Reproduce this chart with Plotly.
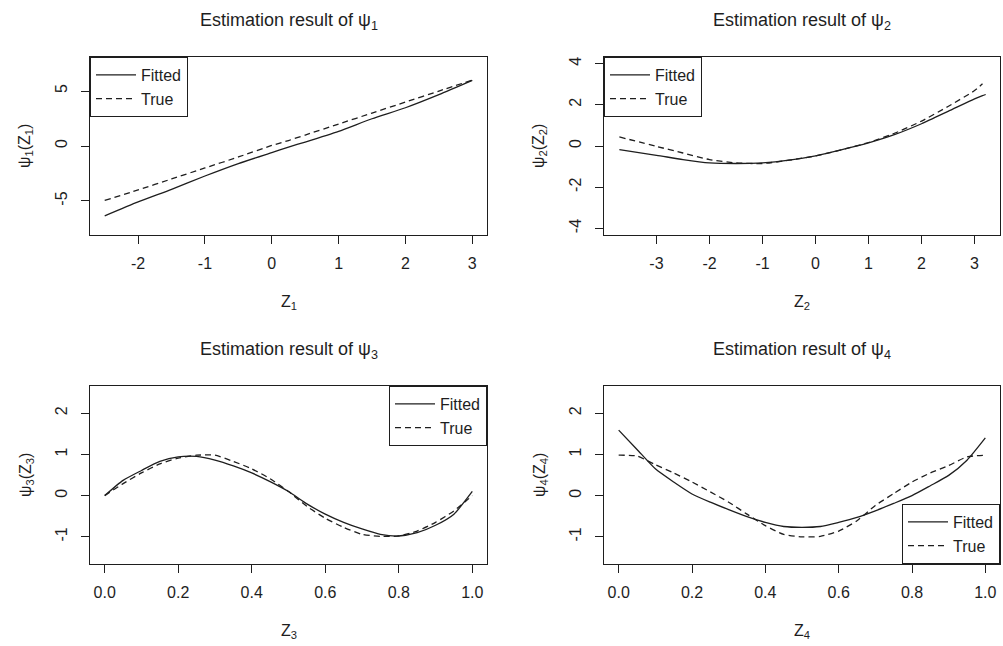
import plotly.graph_objects as go

# ---------------- data ----------------
z1 = [-2.5, -2.0, -1.5, -1.0, -0.5, 0.0, 0.25, 0.5, 1.0, 1.5, 2.0, 2.5, 3.0]
fit1 = [-6.36, -5.09, -3.94, -2.73, -1.60, -0.60, -0.10, 0.36, 1.33, 2.48, 3.48, 4.67, 5.97]
true1 = [-4.95, -4.0, -3.0, -2.0, -1.0, 0.05, 0.5, 1.0, 2.0, 3.0, 4.0, 5.0, 6.0]

z2 = [-3.7, -3.0, -2.5, -2.0, -1.5, -1.0, -0.5, 0.0, 0.5, 1.0, 1.5, 2.0, 2.5, 3.0, 3.15, 3.21]
fit2 = [-0.18, -0.45, -0.66, -0.82, -0.85, -0.82, -0.69, -0.48, -0.18, 0.15, 0.56, 1.08, 1.68, 2.29, 2.45, 2.50]
true2 = [0.44, -0.02, -0.34, -0.66, -0.82, -0.85, -0.69, -0.48, -0.18, 0.17, 0.63, 1.21, 1.92, 2.69, 3.02, None]

z34 = [0.0, 0.05, 0.1, 0.15, 0.2, 0.25, 0.3, 0.35, 0.4, 0.45, 0.5,
       0.55, 0.6, 0.65, 0.7, 0.75, 0.8, 0.85, 0.9, 0.95, 1.0]
fit3 = [0.0, 0.37, 0.61, 0.83, 0.94, 0.95, 0.86, 0.72, 0.55, 0.34, 0.10,
        -0.20, -0.45, -0.65, -0.81, -0.94, -0.98, -0.90, -0.72, -0.45, 0.10]
true3 = [0.0, 0.29, 0.55, 0.77, 0.91, 0.98, 0.98, 0.83, 0.65, 0.41, 0.10,
         -0.26, -0.55, -0.77, -0.94, -0.99, -0.98, -0.86, -0.65, -0.37, 0.0]
fit4 = [1.59, 1.12, 0.65, 0.33, 0.04, -0.16, -0.34, -0.51, -0.65, -0.75, -0.77,
        -0.75, -0.65, -0.53, -0.37, -0.19, 0.0, 0.24, 0.49, 0.86, 1.40]
true4 = [0.98, 0.96, 0.75, 0.55, 0.33, 0.09, -0.16, -0.45, -0.73, -0.94, -1.0,
         -0.99, -0.86, -0.61, -0.24, 0.05, 0.33, 0.55, 0.73, 0.94, 0.98]

titles = ["Estimation result of ψ<sub>1</sub>", "Estimation result of ψ<sub>2</sub>",
          "Estimation result of ψ<sub>3</sub>", "Estimation result of ψ<sub>4</sub>"]
xlabels = ["Z<sub>1</sub>", "Z<sub>2</sub>", "Z<sub>3</sub>", "Z<sub>4</sub>"]
ylabels = ["ψ<sub>1</sub>(Z<sub>1</sub>)", "ψ<sub>2</sub>(Z<sub>2</sub>)",
           "ψ<sub>3</sub>(Z<sub>3</sub>)", "ψ<sub>4</sub>(Z<sub>4</sub>)"]
series_names = ["Fitted", "True"]

xtickvals = [[-2, -1, 0, 1, 2, 3], [-3, -2, -1, 0, 1, 2, 3],
             [0, 0.2, 0.4, 0.6, 0.8, 1.0], [0, 0.2, 0.4, 0.6, 0.8, 1.0]]
xticktext = [["-2", "-1", "0", "1", "2", "3"], ["-3", "-2", "-1", "0", "1", "2", "3"],
             ["0.0", "0.2", "0.4", "0.6", "0.8", "1.0"], ["0.0", "0.2", "0.4", "0.6", "0.8", "1.0"]]
ytickvals = [[-5, 0, 5], [-4, -2, 0, 2, 4], [-1, 0, 1, 2], [-1, 0, 1, 2]]
yticktext = [["-5", "0", "5"], ["-4", "-2", "0", "2", "4"], ["-1", "0", "1", "2"], ["-1", "0", "1", "2"]]

# ---------------- layout geometry ----------------
W, H = 1003, 646
boxes = [(90, 487, 57, 235), (604, 1000, 57, 235), (90, 487, 386, 564), (604, 1000, 386, 564)]
xranges = [[-2.72, 3.22], [-3.99, 3.48], [-0.04, 1.04], [-0.04, 1.04]]
yranges = [[-8.1, 8.1], [-4.32, 4.32], [-1.66, 2.66], [-1.66, 2.66]]

FONT = "Liberation Sans, Arial, sans-serif"
INK = "#1e1e1e"

data = [(z1, fit1, true1), (z2, fit2, true2), (z34, fit3, true3), (z34, fit4, true4)]
legend_names = ["legend", "legend2", "legend3", "legend4"]

fig = go.Figure()
for i, (zx, f, t) in enumerate(data):
    sfx = "" if i == 0 else str(i + 1)
    fig.add_trace(go.Scatter(x=zx, y=f, mode="lines", name=series_names[0],
                             line=dict(color=INK, width=1.3, shape="spline", smoothing=0.6),
                             xaxis="x" + sfx, yaxis="y" + sfx, legend=legend_names[i],
                             connectgaps=False))
    fig.add_trace(go.Scatter(x=zx, y=t, mode="lines", name=series_names[1],
                             line=dict(color=INK, width=1.3, dash="6px,4px", shape="spline", smoothing=0.6),
                             xaxis="x" + sfx, yaxis="y" + sfx, legend=legend_names[i],
                             connectgaps=False))

layout = dict(width=W, height=H, margin=dict(l=0, r=0, t=0, b=0),
              paper_bgcolor="white", plot_bgcolor="white",
              font=dict(family=FONT, color=INK, size=16))
annotations = []
for i, (x0, x1, y0, y1) in enumerate(boxes):
    sfx = "" if i == 0 else str(i + 1)
    common = dict(showgrid=False, zeroline=False, showline=True, mirror=True,
                  linecolor=INK, linewidth=1, ticks="outside", ticklen=8,
                  tickcolor=INK, tickwidth=1, tickfont=dict(family=FONT, size=16, color=INK))
    layout["xaxis" + sfx] = dict(domain=[x0 / W, x1 / W], range=xranges[i],
                                 tickvals=xtickvals[i], ticktext=xticktext[i],
                                 anchor="y" + sfx, ticklabelstandoff=6, **common)
    layout["yaxis" + sfx] = dict(domain=[1 - y1 / H, 1 - y0 / H], range=yranges[i],
                                 tickvals=ytickvals[i], ticktext=yticktext[i], tickangle=-90,
                                 anchor="x" + sfx, ticklabelstandoff=8, **common)
    cx = (x0 + x1) / 2
    top = 21 if i < 2 else 350
    annotations.append(dict(text=titles[i], x=cx / W, y=1 - top / H, xref="paper", yref="paper",
                            xanchor="center", yanchor="middle", showarrow=False,
                            font=dict(family=FONT, size=18, color=INK)))
    annotations.append(dict(text=xlabels[i], x=cx / W, y=1 - (y1 + 67) / H, xref="paper", yref="paper",
                            xanchor="center", yanchor="middle", showarrow=False,
                            font=dict(family=FONT, size=16, color=INK)))
    annotations.append(dict(text=ylabels[i], x=(x0 - 64) / W, y=1 - ((y0 + y1) / 2) / H,
                            xref="paper", yref="paper", textangle=-90,
                            xanchor="center", yanchor="middle", showarrow=False,
                            font=dict(family=FONT, size=16, color=INK)))

leg_common = dict(bordercolor=INK, borderwidth=1, bgcolor="white",
                  font=dict(family=FONT, size=16, color=INK), traceorder="normal",
                  xref="paper", yref="paper", itemwidth=40)
layout["legend"] = dict(x=90 / W, y=1 - 57 / H, xanchor="left", yanchor="top", **leg_common)
layout["legend2"] = dict(x=604 / W, y=1 - 57 / H, xanchor="left", yanchor="top", **leg_common)
layout["legend3"] = dict(x=487 / W, y=1 - 386 / H, xanchor="right", yanchor="top", **leg_common)
layout["legend4"] = dict(x=1000 / W, y=1 - 564 / H, xanchor="right", yanchor="bottom", **leg_common)
layout["annotations"] = annotations

fig.update_layout(**layout)
fig.write_html("out.html", config={"displayModeBar": False},
               post_script="document.body.style.margin='0';document.body.style.overflow='hidden';")
